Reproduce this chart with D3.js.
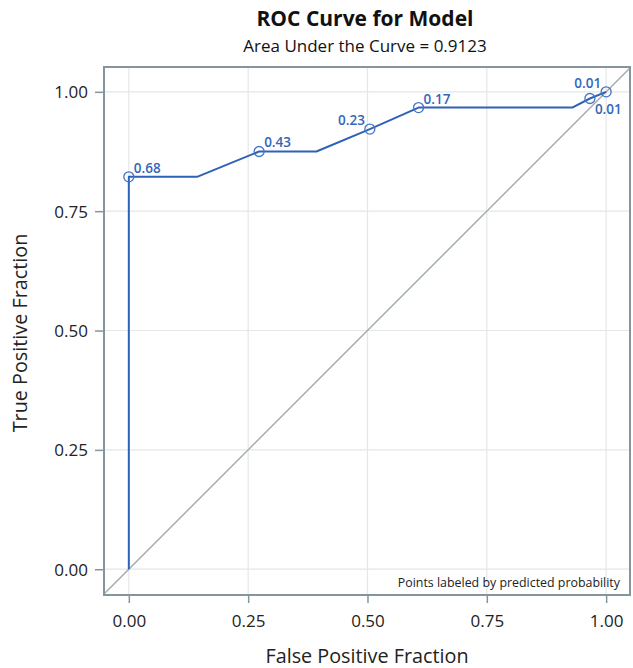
<!DOCTYPE html>
<html>
<head>
<meta charset="utf-8">
<script src="https://cdn.jsdelivr.net/npm/d3@7"></script>
<style>
  body { margin: 0; background: #fff; }
  text { font-family: "Open Sans", sans-serif; }
</style>
</head>
<body>
<div id="chart"></div>
<script>
const w = 633;
const h = 668;
// plot frame
const xLeft = 104, xRight = 630, yTop = 67, yBottom = 595;

// ROC curve vertices (false positive fraction, true positive fraction)
const fpr = [0, 0, 0.143, 0.273, 0.393, 0.505, 0.607, 0.929, 0.966, 1];
const tpr = [0, 0.822, 0.822, 0.875, 0.875, 0.922, 0.967, 0.967, 0.986, 1];

// labeled points
const ptFpr = [0, 0.273, 0.505, 0.607, 0.966, 1];
const ptTpr = [0.822, 0.875, 0.922, 0.967, 0.986, 1];
const ptLabel = ["0.68", "0.43", "0.23", "0.17", "0.01", "0.01"];
const ptPlace = ["ne", "ne", "nw", "ne", "se", "nw"];

const ticks = [0, 0.25, 0.5, 0.75, 1];

const blue = "#2e62b6";

const svg = d3.select("#chart")
  .append("svg")
  .attr("width", w)
  .attr("height", h);

const x = d3.scaleLinear().domain([-0.052, 1.05]).range([xLeft, xRight]);
const y = d3.scaleLinear().domain([-0.054, 1.052]).range([yBottom, yTop]);

// gridlines
svg.append("g")
  .selectAll("line")
  .data(ticks)
  .enter()
  .append("line")
  .attr("x1", d => x(d)).attr("x2", d => x(d))
  .attr("y1", yTop).attr("y2", yBottom)
  .attr("stroke", "#e4e6e8").attr("stroke-width", 1.2);
svg.append("g")
  .selectAll("line")
  .data(ticks)
  .enter()
  .append("line")
  .attr("y1", d => y(d)).attr("y2", d => y(d))
  .attr("x1", xLeft).attr("x2", xRight)
  .attr("stroke", "#e4e6e8").attr("stroke-width", 1.2);

// axes
const xAxis = d3.axisBottom(x).tickValues(ticks).tickFormat(d3.format(".2f")).tickSize(8).tickSizeOuter(0);
const yAxis = d3.axisLeft(y).tickValues(ticks).tickFormat(d3.format(".2f")).tickSize(9).tickSizeOuter(0);

const gx = svg.append("g")
  .attr("transform", `translate(0,${yBottom})`)
  .call(xAxis);
const gy = svg.append("g")
  .attr("transform", `translate(${xLeft},0)`)
  .call(yAxis);

[gx, gy].forEach(g => {
  g.select(".domain").remove();
  g.selectAll(".tick line").attr("stroke", "#85959c").attr("stroke-width", 1.5);
  g.selectAll(".tick text")
    .attr("fill", "#222")
    .style("font-size", "17px")
    .style("font-family", "'Open Sans', sans-serif");
});
gx.selectAll(".tick text").attr("dy", null).attr("y", 32);
gy.selectAll(".tick text").attr("x", -16).attr("dy", "0.35em");

// diagonal reference line
svg.append("line")
  .attr("x1", x(-0.052)).attr("y1", y(-0.052))
  .attr("x2", x(1.05)).attr("y2", y(1.05))
  .attr("stroke", "#a3acae").attr("stroke-width", 1.5);

// ROC curve
const line = d3.line().x((d, i) => x(fpr[i])).y((d, i) => y(tpr[i]));
svg.append("path")
  .datum(fpr)
  .attr("d", line)
  .attr("fill", "none")
  .attr("stroke", blue)
  .attr("stroke-width", 2)
  .attr("stroke-linejoin", "round");

// circles
svg.append("g")
  .selectAll("circle")
  .data(ptFpr)
  .enter()
  .append("circle")
  .attr("cx", (d, i) => x(d))
  .attr("cy", (d, i) => y(ptTpr[i]))
  .attr("r", 5)
  .attr("fill", "none")
  .attr("stroke", "#4474c4")
  .attr("stroke-width", 1.3);

// point labels
svg.append("g")
  .selectAll("text")
  .data(ptLabel)
  .enter()
  .append("text")
  .attr("x", (d, i) => x(ptFpr[i]) + (ptPlace[i][1] === "e" ? 5 : -5))
  .attr("y", (d, i) => y(ptTpr[i]) + (ptPlace[i][0] === "n" ? -4 : 15))
  .attr("text-anchor", (d, i) => ptPlace[i][1] === "e" ? "start" : "end")
  .attr("fill", "#3366bb")
  .style("font-size", "13.5px")
  .style("font-weight", 600)
  .text(d => d);

// frame
svg.append("rect")
  .attr("x", xLeft).attr("y", yTop)
  .attr("width", xRight - xLeft).attr("height", yBottom - yTop)
  .attr("fill", "none")
  .attr("stroke", "#85959c")
  .attr("stroke-width", 2);

// note
svg.append("text")
  .attr("x", xRight - 10).attr("y", 587)
  .attr("text-anchor", "end")
  .attr("fill", "#222")
  .style("font-size", "12.4px")
  .text("Points labeled by predicted probability");

// titles
svg.append("text")
  .attr("x", 365).attr("y", 26)
  .attr("text-anchor", "middle")
  .attr("fill", "#111")
  .style("font-size", "21px")
  .style("font-weight", "bold")
  .text("ROC Curve for Model");
svg.append("text")
  .attr("x", 365).attr("y", 52)
  .attr("text-anchor", "middle")
  .attr("fill", "#111")
  .style("font-size", "17px")
  .text("Area Under the Curve = 0.9123");

// axis labels
svg.append("text")
  .attr("x", (xLeft + xRight) / 2).attr("y", 663)
  .attr("text-anchor", "middle")
  .attr("fill", "#222")
  .style("font-size", "19.8px")
  .text("False Positive Fraction");
svg.append("text")
  .attr("transform", `translate(27,${(yTop + yBottom) / 2 + 2}) rotate(-90)`)
  .attr("text-anchor", "middle")
  .attr("fill", "#222")
  .style("font-size", "19.8px")
  .text("True Positive Fraction");
</script>
</body>
</html>
